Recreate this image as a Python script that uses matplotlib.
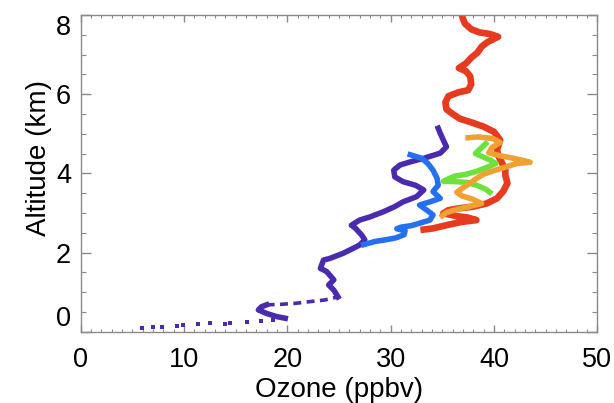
import matplotlib
matplotlib.use("Agg")
import matplotlib.pyplot as plt
from matplotlib.ticker import MultipleLocator

plt.rcParams['font.family'] = ['Liberation Sans', 'DejaVu Sans']

# purple profile: sparse dots near the ground, then the dense part
purple_low_x = [5.9, 7.0, 7.9, 9.3, 9.9, 11.4, 12.5, 14.0, 14.5, 16.1, 17.5, 18.6, 19.8]
purple_low_y = [0.10, 0.13, 0.13, 0.15, 0.18, 0.19, 0.22, 0.19, 0.23, 0.25, 0.27, 0.30, 0.34]
purple_dash_x = [18.0, 19.3, 20.9, 22.2, 23.6, 24.9]
purple_dash_y = [0.68, 0.69, 0.72, 0.76, 0.80, 0.88]
purple_x = [19.8, 19.0, 18.0, 17.2, 17.5, 18.0]
purple_y = [0.34, 0.38, 0.46, 0.55, 0.63, 0.68]
purple_hi_x = [24.9, 24.5, 24.0, 24.5, 23.8, 23.2, 23.5, 24.1, 25.4, 26.4, 27.0, 27.5, 27.2,
               26.6, 26.2, 27.0, 28.0, 29.3, 30.4, 31.2, 32.5, 33.2, 32.4, 31.2, 30.4, 30.3,
               30.9, 31.9, 33.2, 34.8, 35.4, 35.1, 34.8, 34.6]
purple_hi_y = [0.88, 1.05, 1.18, 1.31, 1.52, 1.60, 1.81, 1.85, 1.98, 2.11, 2.19, 2.32, 2.44,
               2.61, 2.69, 2.82, 2.90, 3.03, 3.16, 3.28, 3.41, 3.58, 3.70, 3.79, 3.91, 4.08,
               4.21, 4.29, 4.38, 4.51, 4.67, 4.84, 5.01, 5.14]

blue_x = [27.4, 28.5, 29.7, 30.5, 31.3, 31.4, 30.6, 31.0, 32.0, 32.8, 33.8, 34.1, 33.5, 32.8,
          33.8, 34.8, 34.1, 34.6, 34.5, 34.1, 33.6, 33.0, 31.9]
blue_y = [2.20, 2.28, 2.33, 2.37, 2.45, 2.55, 2.60, 2.64, 2.68, 2.74, 2.82, 2.95, 3.07, 3.20,
          3.28, 3.37, 3.54, 3.70, 3.87, 4.08, 4.25, 4.38, 4.47]

green_x = [39.2, 38.6, 38.2, 38.9, 39.6, 40.2, 39.3, 38.2, 37.2, 36.2, 35.1, 36.3, 37.4, 38.3,
           39.2, 39.6]
green_y = [4.75, 4.60, 4.50, 4.42, 4.34, 4.25, 4.15, 4.04, 3.97, 3.93, 3.80, 3.79, 3.77, 3.70,
           3.60, 3.52]

orange_x = [37.5, 38.5, 39.9, 40.6, 39.8, 39.5, 40.5, 41.5, 42.6, 43.5, 42.2, 41.0, 39.9, 39.0,
            38.3, 37.5, 36.8, 36.4, 36.9, 37.9, 38.8, 37.6, 36.4, 35.4, 35.0]
orange_y = [4.90, 4.92, 4.88, 4.78, 4.65, 4.52, 4.45, 4.40, 4.34, 4.28, 4.25, 4.15, 4.06, 3.98,
            3.87, 3.72, 3.60, 3.52, 3.43, 3.35, 3.24, 3.16, 3.09, 3.01, 2.93]

red_x = [33.2, 34.1, 35.4, 36.8, 38.3, 37.5, 36.4, 35.1, 35.6, 36.7, 38.0, 39.3, 40.3, 40.9,
         41.3, 41.1, 41.1, 40.8, 40.4, 40.3, 40.6, 40.0, 39.0, 37.9, 36.7, 36.0, 35.4, 35.3,
         35.6, 36.6, 37.5, 37.8, 37.7, 37.3, 36.6, 37.3, 37.8, 38.4, 38.8, 39.4, 40.4, 39.6,
         38.6, 37.8, 37.2, 37.0, 36.9]
red_y = [2.58, 2.61, 2.69, 2.77, 2.82, 2.88, 2.92, 2.99, 3.07, 3.12, 3.16, 3.24, 3.37, 3.55,
         3.75, 3.95, 4.10, 4.25, 4.45, 4.60, 4.84, 5.05, 5.18, 5.28, 5.38, 5.50, 5.62, 5.80,
         5.95, 6.05, 6.10, 6.25, 6.45, 6.58, 6.66, 6.78, 6.92, 7.05, 7.20, 7.32, 7.45, 7.52,
         7.56, 7.64, 7.78, 7.90, 7.99]

c_purple = '#4a2bb0'
c_blue = '#2470ee'
c_green = '#6ee23c'
c_orange = '#f0a132'
c_red = '#e63b1f'

fig = plt.figure(figsize=(6.14, 4.03), dpi=100)
ax = fig.add_axes([0.1314, 0.1769, 0.8414, 0.7859])

lw = 4.0
ax.plot(purple_low_x, purple_low_y, 's', color=c_purple, ms=2.8, mew=0)
ax.plot(purple_dash_x, purple_dash_y, color=c_purple, lw=2.6, ls=(0, (2.2, 1.5)))
ax.plot(purple_x, purple_y, color=c_purple, lw=lw, solid_joinstyle='round')
ax.plot(purple_hi_x, purple_hi_y, color=c_purple, lw=lw, solid_joinstyle='round')
ax.plot(blue_x, blue_y, color=c_blue, lw=lw, solid_joinstyle='round')
ax.plot(red_x, red_y, color=c_red, lw=lw + 0.8, solid_joinstyle='round')
ax.plot(green_x, green_y, color=c_green, lw=lw, solid_joinstyle='round')
ax.plot(orange_x, orange_y, color=c_orange, lw=lw, solid_joinstyle='round')

ax.set_xlim(0, 50)
ax.set_ylim(0, 8)
ax.set_xticks([0, 10, 20, 30, 40, 50])
ax.set_yticks([0, 2, 4, 6, 8])
ax.xaxis.set_minor_locator(MultipleLocator(1))
ax.yaxis.set_minor_locator(MultipleLocator(0.5))

grey = '#8a8a8a'
for s in ax.spines.values():
    s.set_color(grey)
    s.set_linewidth(1.0)
ax.tick_params(which='both', direction='in', top=True, right=True, color=grey,
               labelsize=19.5, labelcolor='black')
ax.tick_params(axis='x', which='major', length=5, width=1.0, pad=11)
ax.tick_params(axis='x', which='minor', length=2.5, width=0.8)
ax.tick_params(axis='y', which='major', length=7, width=1.0, pad=7)
ax.tick_params(axis='y', which='minor', length=3.6, width=0.8)

ylabels = ax.get_yticklabels()
ylabels[0].set_va('bottom')
ylabels[-1].set_va('top')

ax.set_xlabel('Ozone (ppbv)', fontsize=20, labelpad=3)
ax.set_ylabel('Altitude (km)', fontsize=20)
ax.yaxis.set_label_coords(-0.055, 0.55)

fig.savefig('out.png', dpi=100)
